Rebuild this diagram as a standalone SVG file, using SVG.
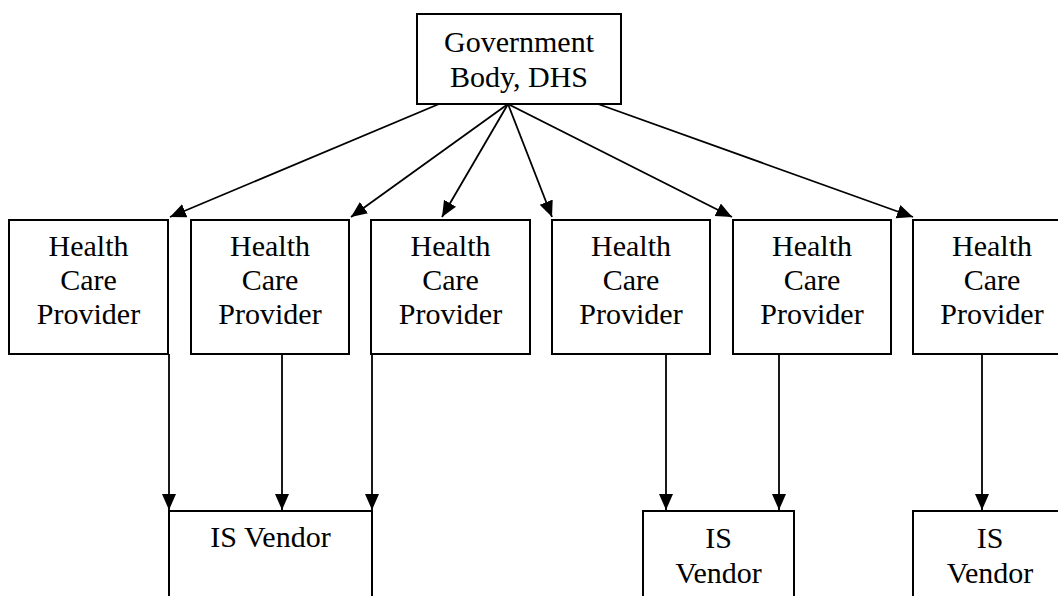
<svg xmlns="http://www.w3.org/2000/svg" width="1058" height="596" viewBox="0 0 1058 596">
  <style>
    .box { fill: #ffffff; stroke: #000000; stroke-width: 2; }
    .label { font-family: "Liberation Serif", "Times New Roman", serif; font-size: 30px; fill: #000000; text-anchor: middle; }
    .link { stroke: #000000; stroke-width: 1.8; fill: none; marker-end: url(#arrow); }
  </style>
  <defs>
    <marker id="arrow" markerUnits="userSpaceOnUse" markerWidth="17" markerHeight="15" refX="16" refY="7" orient="auto">
      <path d="M0,0 L16,7 L0,14 Z" fill="#000000"/>
    </marker>
  </defs>
  <rect width="1058" height="596" fill="#ffffff"/>

  <!-- top-level body -->
  <g id="gov">
    <rect class="box" x="417" y="14" width="204" height="90"/>
    <text class="label" x="519" y="52">Government</text>
    <text class="label" x="519" y="87">Body, DHS</text>
  </g>

  <!-- providers -->
  <g id="hcp1">
    <rect class="box" x="9" y="220" width="159" height="134"/>
    <text class="label" x="88.5" y="256">Health</text>
    <text class="label" x="88.5" y="290">Care</text>
    <text class="label" x="88.5" y="324">Provider</text>
  </g>
  <g id="hcp2">
    <rect class="box" x="191" y="220" width="158" height="134"/>
    <text class="label" x="270" y="256">Health</text>
    <text class="label" x="270" y="290">Care</text>
    <text class="label" x="270" y="324">Provider</text>
  </g>
  <g id="hcp3">
    <rect class="box" x="371" y="220" width="159" height="134"/>
    <text class="label" x="450.5" y="256">Health</text>
    <text class="label" x="450.5" y="290">Care</text>
    <text class="label" x="450.5" y="324">Provider</text>
  </g>
  <g id="hcp4">
    <rect class="box" x="552" y="220" width="158" height="134"/>
    <text class="label" x="631" y="256">Health</text>
    <text class="label" x="631" y="290">Care</text>
    <text class="label" x="631" y="324">Provider</text>
  </g>
  <g id="hcp5">
    <rect class="box" x="733" y="220" width="158" height="134"/>
    <text class="label" x="812" y="256">Health</text>
    <text class="label" x="812" y="290">Care</text>
    <text class="label" x="812" y="324">Provider</text>
  </g>
  <g id="hcp6">
    <rect class="box" x="913" y="220" width="158" height="134"/>
    <text class="label" x="992" y="256">Health</text>
    <text class="label" x="992" y="290">Care</text>
    <text class="label" x="992" y="324">Provider</text>
  </g>

  <!-- vendors -->
  <g id="vendor1">
    <rect class="box" x="169" y="511" width="203" height="100"/>
    <text class="label" x="270.5" y="547">IS Vendor</text>
  </g>
  <g id="vendor2">
    <rect class="box" x="643" y="511" width="151" height="100"/>
    <text class="label" x="718.5" y="548">IS</text>
    <text class="label" x="718.5" y="583">Vendor</text>
  </g>
  <g id="vendor3">
    <rect class="box" x="913" y="511" width="152" height="100"/>
    <text class="label" x="990" y="548">IS</text>
    <text class="label" x="990" y="583">Vendor</text>
  </g>

  <!-- connectors -->
  <g id="connectors">
    <line class="link" x1="439" y1="104" x2="170" y2="217"/>
    <line class="link" x1="508" y1="104" x2="351" y2="217"/>
    <line class="link" x1="508" y1="104" x2="442" y2="217"/>
    <line class="link" x1="508" y1="104" x2="552" y2="217"/>
    <line class="link" x1="508" y1="104" x2="732" y2="217"/>
    <line class="link" x1="598" y1="104" x2="913" y2="217"/>

    <line class="link" x1="169" y1="354" x2="169" y2="510"/>
    <line class="link" x1="282" y1="354" x2="282" y2="510"/>
    <line class="link" x1="372" y1="354" x2="372" y2="510"/>
    <line class="link" x1="666" y1="354" x2="666" y2="510"/>
    <line class="link" x1="779" y1="354" x2="779" y2="510"/>
    <line class="link" x1="982" y1="354" x2="982" y2="510"/>
  </g>
</svg>
